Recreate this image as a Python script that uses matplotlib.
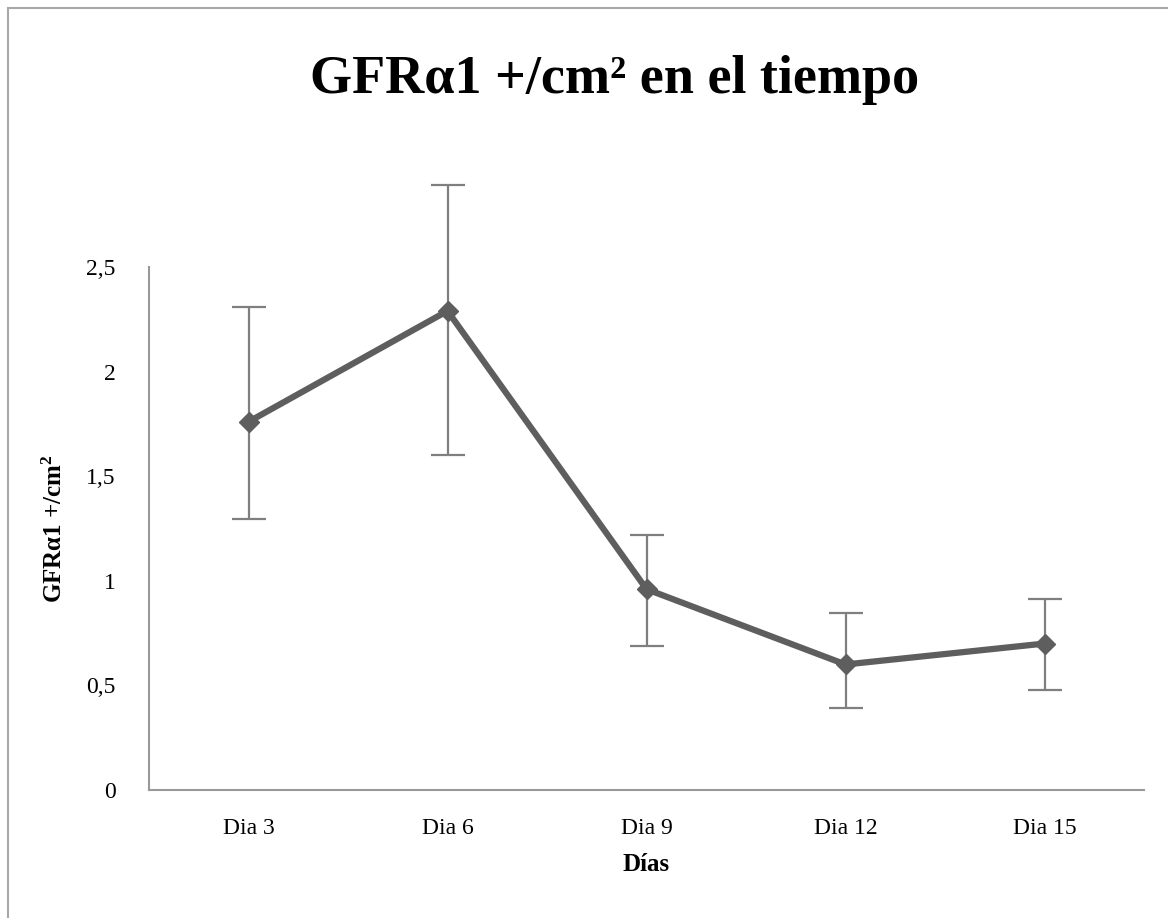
import matplotlib
matplotlib.use("Agg")
import matplotlib.pyplot as plt
from matplotlib.patches import Rectangle

# values
dias = ["Dia 3", "Dia 6", "Dia 9", "Dia 12", "Dia 15"]
media = [1.76, 2.29, 0.96, 0.60, 0.70]
err_sup = [0.55, 0.60, 0.26, 0.245, 0.215]
err_inf = [0.465, 0.69, 0.27, 0.21, 0.22]
yticks = [0, 0.5, 1, 1.5, 2, 2.5]
ytick_labels = ["0", "0,5", "1", "1,5", "2", "2,5"]

plt.rcParams['font.family'] = ['Liberation Serif', 'DejaVu Serif']
plt.rcParams['mathtext.fontset'] = 'custom'
plt.rcParams['mathtext.rm'] = 'Liberation Serif'
plt.rcParams['mathtext.bf'] = 'Liberation Serif:bold'

fig = plt.figure(figsize=(11.68, 9.18), dpi=100)
ax = fig.add_axes([149/1168, 128/918, 995/1168, 523/918])

x = list(range(1, len(dias) + 1))
eb = ax.errorbar(x, media, yerr=[err_inf, err_sup], fmt='none', ecolor='#7f7f7f',
                 elinewidth=1.6, capsize=12, capthick=1.6, zorder=2)
for part in eb.lines[1] + eb.lines[2]:
    part.set_clip_on(False)
ax.plot(x, media, color='#5e5e5e', linewidth=4.5, marker='D', markersize=10,
        zorder=3, clip_on=False)

ax.set_xlim(0.5, len(dias) + 0.5)
ax.set_ylim(0, 2.5)
ax.set_xticks(x)
ax.set_xticklabels(dias)
ax.set_yticks(yticks)
ax.set_yticklabels(ytick_labels)
ax.tick_params(axis='both', length=0, labelsize=17, colors='#000000')
ax.tick_params(axis='y', pad=24)
ax.tick_params(axis='x', pad=20)

for s in ['top', 'right']:
    ax.spines[s].set_visible(False)
for s in ['left', 'bottom']:
    ax.spines[s].set_color('#999999')
    ax.spines[s].set_linewidth(1.5)

ax.set_xlabel("Días", fontsize=18, fontweight='bold', labelpad=10)
ax.set_ylabel("GFRα1 +/cm$\\mathbf{^{2}}$", fontsize=18, fontweight='bold', labelpad=14)

fig.text(615/1168, 1 - 80/918, "GFRα1 +/cm² en el tiempo", fontsize=39,
         fontweight='bold', ha='center', va='center')

fig.patches.append(Rectangle((8/1168, -0.05), 1.1, 1 - 8/918 + 0.05,
                             transform=fig.transFigure, fill=False,
                             edgecolor='#a8a8a8', linewidth=1.5))

fig.savefig("out.png", dpi=100)
